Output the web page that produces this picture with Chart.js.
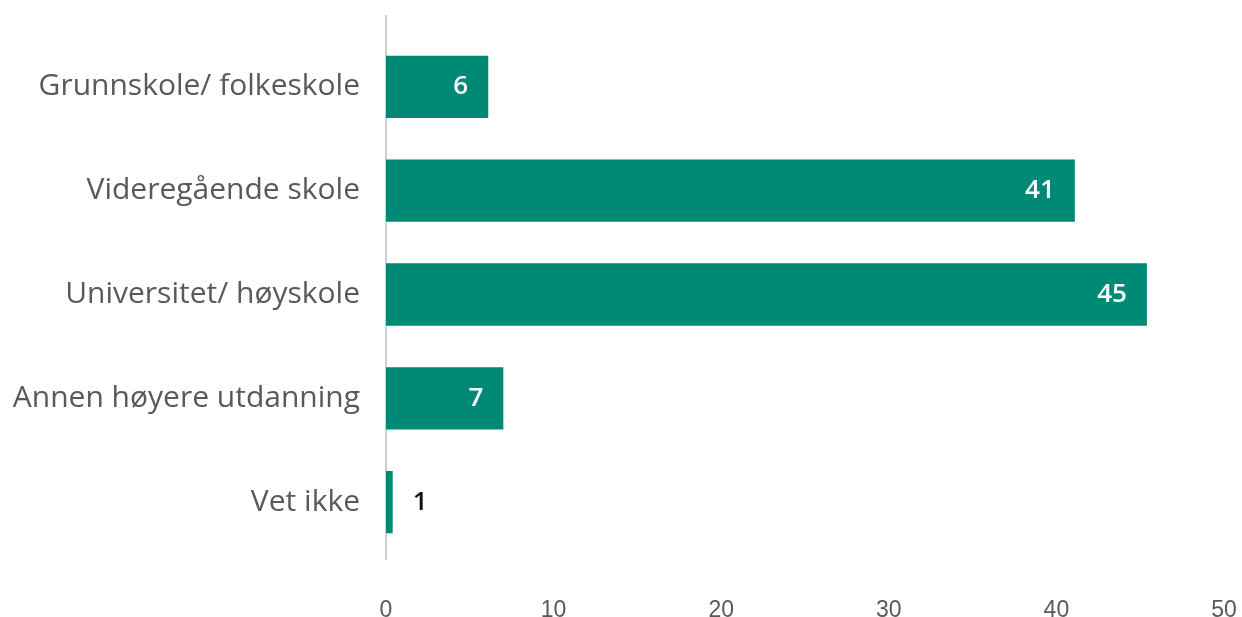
<!DOCTYPE html>
<html>
<head>
<meta charset="utf-8">
<script src="https://cdn.jsdelivr.net/npm/chart.js@4"></script>
<style>
    html, body { margin: 0; padding: 0; background: #ffffff; }
    #wrap { width: 1242px; height: 617px; }
</style>
</head>
<body>
<div id="wrap"><canvas id="eduChart" width="1242" height="617"></canvas></div>
<script>
const categories = ['Grunnskole/ folkeskole', 'Videregående skole', 'Universitet/ høyskole', 'Annen høyere utdanning', 'Vet ikke'];
const values = [6.1, 41.1, 45.4, 7.0, 0.4];
const valueLabels = ['6', '41', '45', '7', '1'];
const xTicks = [0, 10, 20, 30, 40, 50];

const barColor = '#008975';
const labelFont = '"Open Sans", Lato, sans-serif';
const tickFont = '"Liberation Sans Narrow", "Liberation Sans", sans-serif';

// draws the number at the end of each bar, inside if there is room, else outside
const barValues = {
    id: 'barValues',
    afterDatasetsDraw(chart) {
        const ctx = chart.ctx;
        const meta = chart.getDatasetMeta(0);
        ctx.save();
        ctx.font = '600 26px ' + labelFont;
        ctx.textBaseline = 'middle';
        meta.data.forEach((bar, i) => {
            const w = bar.x - bar.base;
            if (w > 50) {
                ctx.fillStyle = '#ffffff';
                ctx.textAlign = 'right';
                ctx.fillText(valueLabels[i], bar.x - 20, bar.y);
            } else {
                ctx.fillStyle = '#111111';
                ctx.textAlign = 'left';
                ctx.fillText(valueLabels[i], bar.x + 20, bar.y);
            }
        });
        ctx.restore();
    }
};

// the vertical axis line runs a bit past the category bands
const axisLine = {
    id: 'axisLine',
    beforeDatasetsDraw(chart) {
        const ctx = chart.ctx;
        const x = chart.scales.x.getPixelForValue(0);
        ctx.save();
        ctx.strokeStyle = '#bfbfbf';
        ctx.lineWidth = 1.5;
        ctx.beginPath();
        ctx.moveTo(x, 15);
        ctx.lineTo(x, 560);
        ctx.stroke();
        ctx.restore();
    }
};

const canv = document.getElementById('eduChart').getContext('2d');
const chart = new Chart(canv, {
    type: 'bar',
    data: {
        labels: categories,
        datasets: [{
            data: values,
            backgroundColor: barColor,
            borderWidth: 0,
            categoryPercentage: 0.6,
            barPercentage: 1.0
        }]
    },
    options: {
        indexAxis: 'y',
        responsive: false,
        animation: false,
        layout: {
            padding: { top: 30, right: 18, left: 0, bottom: 0 }
        },
        plugins: {
            legend: { display: false },
            tooltip: { enabled: false },
            title: { display: false }
        },
        scales: {
            x: {
                min: 0,
                max: 50,
                afterBuildTicks: (scale) => {
                    scale.ticks = xTicks.map(v => ({ value: v }));
                },
                afterFit: (scale) => {
                    scale.height = 63;
                    scale.paddingLeft = 0;
                    scale.paddingRight = 0;
                },
                grid: { display: false, drawTicks: false },
                border: { display: false },
                ticks: {
                    padding: 45,
                    color: '#595959',
                    font: { family: tickFont, size: 23, lineHeight: 1 },
                    maxRotation: 0
                }
            },
            y: {
                afterFit: (scale) => {
                    scale.width = 386;
                },
                grid: { display: false, drawTicks: false },
                border: { display: false },
                ticks: {
                    padding: 26,
                    color: '#595959',
                    font: { family: labelFont, size: 30, lineHeight: 0.6 }
                }
            }
        }
    },
    plugins: [axisLine, barValues]
});
</script>
</body>
</html>
